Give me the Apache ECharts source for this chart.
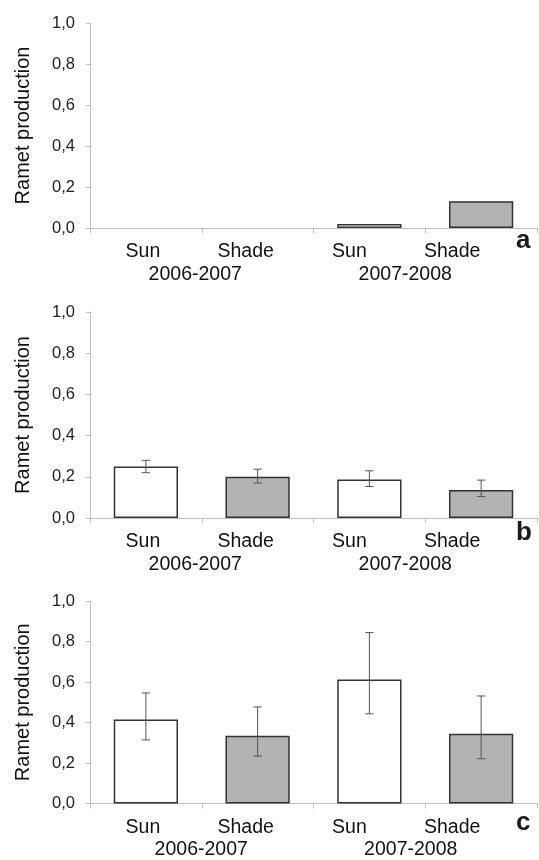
<!DOCTYPE html>
<html>
<head>
<meta charset="utf-8">
<script src="https://cdn.jsdelivr.net/npm/echarts@6/dist/echarts.min.js"></script>
<style>html,body{margin:0;padding:0;background:#fff}#c{width:539px;height:860px}</style>
</head>
<body>
<div id="c"></div>
<script>
// ---- data ----
const treatments = ['Sun', 'Shade', 'Sun', 'Shade'];
const seasons = ['2006-2007', '2007-2008'];
const yTicks = [0, 0.2, 0.4, 0.6, 0.8, 1.0];
const panelLetters = ['a', 'b', 'c'];

const aMean = [0, 0, 0.02, 0.13];

const bMean = [0.25, 0.20, 0.187, 0.136];
const bLow  = [0.22, 0.17, 0.153, 0.104];
const bHigh = [0.28, 0.237, 0.229, 0.184];

const cMean = [0.415, 0.334, 0.612, 0.344];
const cLow  = [0.314, 0.234, 0.443, 0.221];
const cHigh = [0.546, 0.477, 0.844, 0.531];

// ---- layout ----
const FONT = '"Liberation Sans", Arial, sans-serif';
const grids = [
  { left: 90, width: 447, top: 23, height: 205 },
  { left: 90, width: 447, top: 312, height: 206 },
  { left: 90, width: 447, top: 601, height: 205 }
];
const catPad = [6, 24, 40, 58];
const yearPad = [[13, 40], [13, 40], [1, 29]];
const letterTop = [228, 520, 810];

const panels = [
  { mean: aMean, low: null, high: null },
  { mean: bMean, low: bLow, high: bHigh },
  { mean: cMean, low: cLow, high: cHigh }
];

const fillFor = name => name === 'Sun' ? '#ffffff' : '#b3b3b3';

const xAxis = [], yAxis = [], series = [], title = [];
panels.forEach((p, i) => {
  const catRich = {};
  catPad.forEach((pd, k) => { catRich['c' + k] = { padding: [0, pd, 0, 0], fontSize: 19.5, color: '#111', fontFamily: FONT }; });
  xAxis.push({
    type: 'category', gridIndex: i, data: treatments, position: 'bottom',
    axisLine: { lineStyle: { color: '#bfbfbf', width: 1 } },
    axisTick: { show: true, interval: 0, length: 5, lineStyle: { color: '#bfbfbf' } },
    axisLabel: {
      interval: 0, hideOverlap: false,
      margin: 14, fontSize: 19.5, color: '#111', fontFamily: FONT,
      formatter: (v, k) => '{c' + k + '|' + v + '}', rich: catRich
    }
  });
  const yRich = {};
  yearPad[i].forEach((pd, k) => { yRich['y' + k] = { padding: [0, pd, 0, 0], fontSize: 19.5, color: '#111', fontFamily: FONT }; });
  xAxis.push({
    type: 'category', gridIndex: i, data: seasons, position: 'bottom',
    axisLine: { show: false }, axisTick: { show: false },
    axisLabel: {
      interval: 0, hideOverlap: false,
      margin: 36.5, fontSize: 19.5, color: '#111', fontFamily: FONT,
      formatter: (v, k) => '{y' + k + '|' + v + '}', rich: yRich
    }
  });
  yAxis.push({
    type: 'value', gridIndex: i, min: yTicks[0], max: yTicks[yTicks.length - 1], interval: 0.2,
    name: 'Ramet production', nameLocation: 'middle', nameGap: 57, nameRotate: 90,
    nameTextStyle: { fontSize: 20, color: '#111', fontFamily: FONT },
    axisLine: { show: true, lineStyle: { color: '#bfbfbf', width: 1 } },
    axisTick: { show: true, length: 4, lineStyle: { color: '#bfbfbf' } },
    splitLine: { show: false },
    axisLabel: {
      margin: 15, fontSize: 16.5, color: '#222', fontFamily: FONT,
      formatter: v => v.toFixed(1).replace('.', ',')
    }
  });
  series.push({
    type: 'bar', xAxisIndex: i * 2, yAxisIndex: i,
    barWidth: '57.5%',
    data: p.mean.map((v, k) => ({
      value: v === 0 ? '-' : v,
      itemStyle: { color: fillFor(treatments[k]) }
    })),
    itemStyle: { borderColor: '#333', borderWidth: 1.5 },
    silent: true, animation: false
  });
  if (p.low) {
    series.push({
      type: 'custom', xAxisIndex: i * 2, yAxisIndex: i, z: 5,
      data: p.mean.map((v, k) => [k, p.low[k], p.high[k]]),
      encode: { x: 0, y: [1, 2] },
      renderItem: (params, api) => {
        const lo = api.coord([api.value(0), api.value(1)]);
        const hi = api.coord([api.value(0), api.value(2)]);
        const w = 4.2;
        const st = { stroke: '#555', lineWidth: 1 };
        return {
          type: 'group', children: [
            { type: 'line', shape: { x1: hi[0], y1: hi[1], x2: lo[0], y2: lo[1] }, style: st },
            { type: 'line', shape: { x1: hi[0] - w, y1: hi[1], x2: hi[0] + w, y2: hi[1] }, style: st },
            { type: 'line', shape: { x1: lo[0] - w, y1: lo[1], x2: lo[0] + w, y2: lo[1] }, style: st }
          ]
        };
      },
      silent: true, animation: false
    });
  }
  title.push({
    text: panelLetters[i], left: 516, top: letterTop[i], padding: 0,
    textStyle: { fontSize: 26, fontWeight: 'bold', color: '#1a1a1a', fontFamily: FONT }
  });
});

const chart = echarts.init(document.getElementById('c'), null, { renderer: 'canvas' });
chart.setOption({ animation: false, title, grid: grids, xAxis, yAxis, series });
</script>
</body>
</html>
